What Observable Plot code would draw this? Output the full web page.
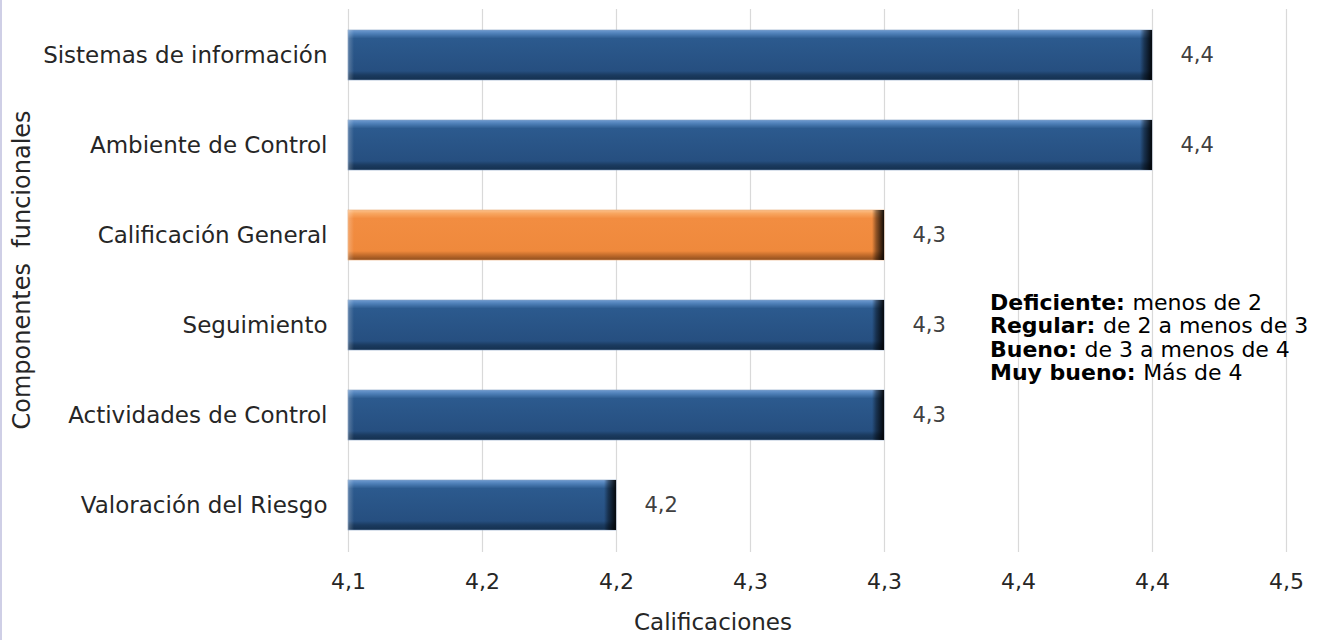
<!DOCTYPE html>
<html>
<head>
<meta charset="utf-8">
<script src="https://cdn.jsdelivr.net/npm/d3@7"></script>
<script src="https://cdn.jsdelivr.net/npm/@observablehq/plot@0.6"></script>
<style>
  html, body { margin: 0; padding: 0; background: #ffffff; }
  #chart svg { display: block; }
</style>
</head>
<body>
<div id="chart"></div>
<script>
const categories = ["Sistemas de información", "Ambiente de Control", "Calificación General", "Seguimiento", "Actividades de Control", "Valoración del Riesgo"];
const values = [4.40, 4.40, 4.30, 4.30, 4.30, 4.20];
const valueLabels = ["4,4", "4,4", "4,3", "4,3", "4,3", "4,2"];
const highlighted = ["Calificación General"];
const tickValues = [4.10, 4.15, 4.20, 4.25, 4.30, 4.35, 4.40, 4.45];
const tickLabels = ["4,1", "4,2", "4,2", "4,3", "4,3", "4,4", "4,4", "4,5"];
const xTitle = "Calificaciones";
const yTitle = "Componentes  funcionales";
const legendBold = ["Deficiente:", "Regular:", "Bueno:", "Muy bueno:"];
const legendText = ["menos de 2", "de 2 a menos de 3", "de 3 a menos de 4", "Más de 4"];

const data = categories.map((c, i) => ({cat: c, value: values[i], label: valueLabels[i], hi: highlighted.includes(c)}));
const xMin = tickValues[0];
const FONT = "DejaVu Sans, Verdana, sans-serif";

const plot = Plot.plot({
  width: 1329,
  height: 640,
  marginLeft: 348,
  marginRight: 43,
  marginTop: 9,
  marginBottom: 88,
  style: {fontFamily: FONT, color: "#262626", background: "#ffffff"},
  x: {domain: [4.1, 4.45], label: null},
  y: {domain: categories, paddingInner: 0.44, paddingOuter: 0.217, label: null},
  marks: [
    Plot.gridX(tickValues, {stroke: "#d9d9d9", strokeOpacity: 1, strokeWidth: 1.2}),
    Plot.barX(data.filter(d => !d.hi), {x1: () => xMin, x2: "value", y: "cat", fill: "url(#gBlue)", stroke: "#7f9cc0", strokeWidth: 0.6}),
    Plot.barX(data.filter(d => d.hi), {x1: () => xMin, x2: "value", y: "cat", fill: "url(#gOrange)", stroke: "#e9a872", strokeWidth: 0.6}),
    Plot.barX(data, {x1: "value", x2: "value", y: "cat", insetLeft: -12, fill: "url(#gEnd)"}),
    Plot.barX(data, {x1: () => xMin, x2: () => xMin, y: "cat", insetRight: -6, fill: "url(#gStart)"}),
    Plot.text(data, {x: "value", y: "cat", text: "label", dx: 28, textAnchor: "start", fill: "#404040", fontSize: 21}),
    Plot.axisX({ticks: tickValues, tickFormat: (d, i) => tickLabels[tickValues.indexOf(d)], tickSize: 0, tickPadding: 21, fontSize: 22, label: null}),
    Plot.axisY({tickSize: 0, tickPadding: 21, fontSize: 23, label: null})
  ]
});

const svg = d3.select(plot);
const defs = svg.insert("defs", ":first-child");
function vgrad(id, stops) {
  const g = defs.append("linearGradient").attr("id", id).attr("x1", 0).attr("y1", 0).attr("x2", 0).attr("y2", 1);
  stops.forEach(([o, c]) => g.append("stop").attr("offset", o).attr("stop-color", c));
}
vgrad("gBlue", [[0, "#6f9bd0"], [0.07, "#4f80b8"], [0.17, "#2c5a8e"], [0.82, "#264f80"], [0.9, "#1b3b60"], [1, "#14304f"]]);
vgrad("gOrange", [[0, "#fbc08a"], [0.07, "#f8a660"], [0.17, "#f28d41"], [0.82, "#ef893c"], [0.9, "#c46d2c"], [1, "#8f4e1e"]]);
const ge = defs.append("linearGradient").attr("id", "gEnd").attr("x1", 0).attr("y1", 0).attr("x2", 1).attr("y2", 0);
ge.append("stop").attr("offset", 0).attr("stop-color", "#000").attr("stop-opacity", 0);
ge.append("stop").attr("offset", 0.35).attr("stop-color", "#000").attr("stop-opacity", 0.4);
ge.append("stop").attr("offset", 1).attr("stop-color", "#000").attr("stop-opacity", 0.92);
const gs = defs.append("linearGradient").attr("id", "gStart").attr("x1", 0).attr("y1", 0).attr("x2", 1).attr("y2", 0);
gs.append("stop").attr("offset", 0).attr("stop-color", "#fff").attr("stop-opacity", 0.25);
gs.append("stop").attr("offset", 1).attr("stop-color", "#fff").attr("stop-opacity", 0);

// left frame border
svg.append("line").attr("x1", 1).attr("x2", 1).attr("y1", 0).attr("y2", 640)
  .attr("stroke", "#cfcfe6").attr("stroke-width", 2);

// axis titles
svg.append("text").attr("x", 713).attr("y", 630).attr("text-anchor", "middle")
  .attr("font-family", FONT).attr("font-size", 23).attr("fill", "#262626").text(xTitle);
svg.append("text").attr("transform", "translate(30,270) rotate(-90)").attr("text-anchor", "middle")
  .attr("font-family", FONT).attr("font-size", 24).attr("fill", "#262626").attr("xml:space", "preserve")
  .style("white-space", "pre").text(yTitle);

// rating legend
const leg = svg.append("text").attr("font-family", FONT).attr("font-size", 22).attr("fill", "#000")
  .attr("text-anchor", "start");
legendBold.forEach((b, i) => {
  const t = leg.append("tspan").attr("x", 990).attr("y", 310 + i * 23.3);
  t.append("tspan").attr("font-weight", "bold").text(b + " ");
  t.append("tspan").text(legendText[i]);
});

document.getElementById("chart").appendChild(plot);
</script>
</body>
</html>
